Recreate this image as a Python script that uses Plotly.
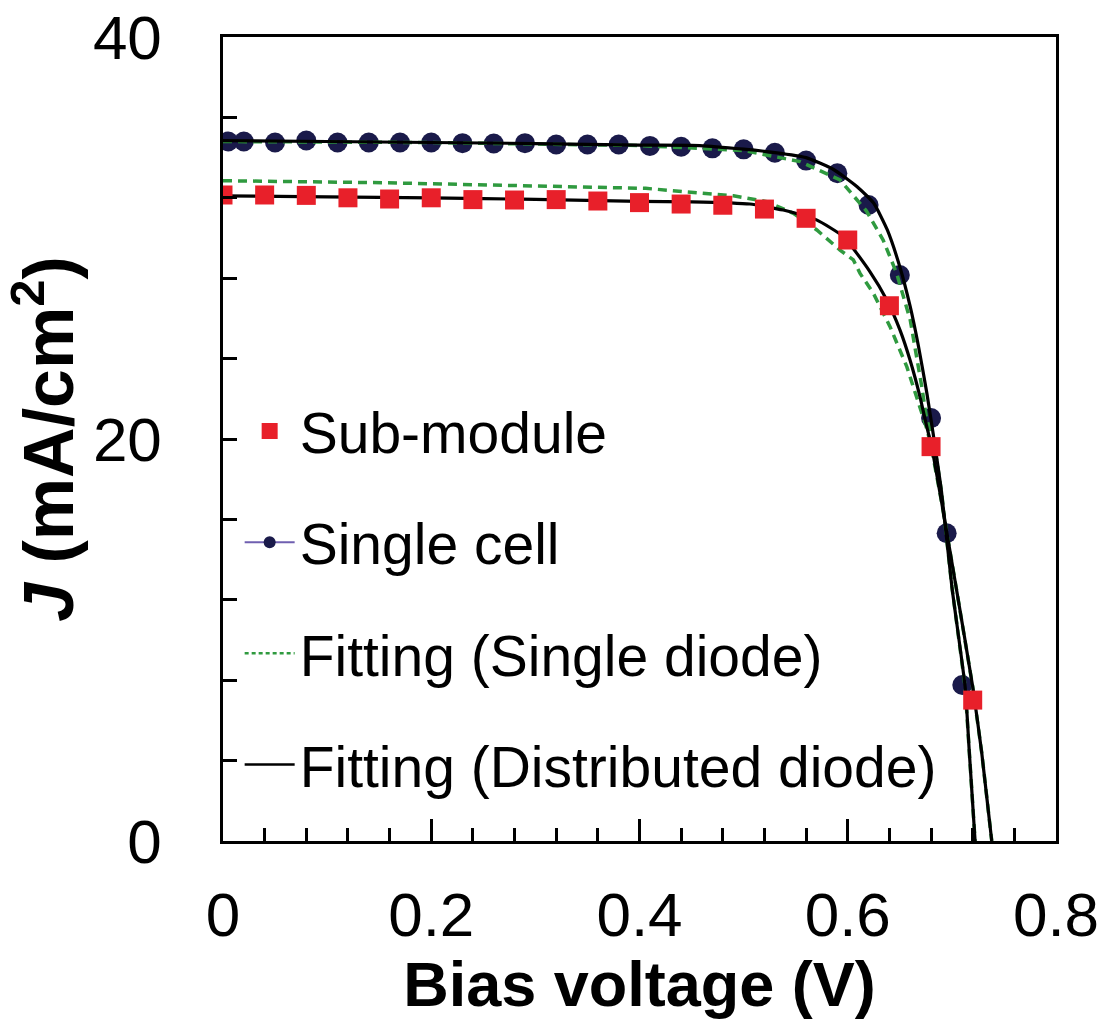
import plotly.graph_objects as go

# ---- data ----
sub_v = [0.00, 0.04, 0.08, 0.12, 0.16, 0.20, 0.24, 0.28, 0.32, 0.36,
         0.40, 0.44, 0.48, 0.52, 0.56, 0.60, 0.64, 0.68, 0.72]
sub_j = [32.14, 32.14, 32.12, 32.00, 31.94, 32.00, 31.91, 31.89, 31.91, 31.84,
         31.76, 31.69, 31.63, 31.44, 30.98, 29.90, 26.63, 19.62, 7.01]

cell_v = [0.005, 0.02, 0.05, 0.08, 0.11, 0.14, 0.17, 0.20, 0.23, 0.26,
          0.29, 0.32, 0.35, 0.38, 0.41, 0.44, 0.47, 0.50, 0.53, 0.56,
          0.59, 0.62, 0.65, 0.68, 0.695, 0.71]
cell_j = [34.80, 34.80, 34.75, 34.85, 34.75, 34.75, 34.75, 34.75, 34.72, 34.70,
          34.72, 34.65, 34.65, 34.65, 34.58, 34.54, 34.46, 34.41, 34.24, 33.85,
          33.22, 31.64, 28.16, 21.04, 15.31, 7.76]

# distributed-diode fit (black solid)
dist_cell_v = [0.0, 0.10, 0.20, 0.30, 0.40, 0.458, 0.50, 0.53, 0.56, 0.586,
               0.609, 0.625, 0.638, 0.650, 0.660, 0.668, 0.676, 0.682, 0.690,
               0.700, 0.7127, 0.7168, 0.7223]
dist_cell_j = [34.84, 34.80, 34.75, 34.70, 34.62, 34.60, 34.42, 34.25, 34.00, 33.42,
               32.55, 31.73, 30.40, 28.57, 26.58, 24.59, 22.27, 20.28, 17.40,
               12.65, 7.68, 4.38, 0.0]
dist_sub_v = [0.0, 0.10, 0.20, 0.30, 0.40, 0.45, 0.506, 0.538, 0.570, 0.596,
              0.6214, 0.6375, 0.6502, 0.6598, 0.6694, 0.6759, 0.6806, 0.690,
              0.704, 0.720, 0.7287, 0.7383]
dist_sub_j = [32.10, 32.05, 32.00, 31.92, 31.82, 31.80, 31.69, 31.39, 30.90, 30.06,
              28.32, 26.92, 25.42, 23.93, 22.10, 20.61, 19.62, 16.90,
              12.65, 7.68, 4.38, 0.0]

# single-diode fit (green dashed)
sd_cell_v = [0.0, 0.20, 0.40, 0.50, 0.5543, 0.5926, 0.618, 0.634, 0.647, 0.660,
             0.6711, 0.6759, 0.682, 0.690, 0.700, 0.7127, 0.7168, 0.7223]
sd_cell_j = [34.80, 34.75, 34.60, 34.35, 33.80, 32.89, 31.34, 29.90, 28.24, 25.92,
             22.60, 20.95, 20.10, 17.40, 12.65, 7.68, 4.38, 0.0]
sd_sub_v = [0.0, 0.153, 0.406, 0.451, 0.4902, 0.5223, 0.5478, 0.5703, 0.5926,
            0.6054, 0.6118, 0.6246, 0.6406, 0.6567, 0.6694, 0.676, 0.6806, 0.690,
            0.704, 0.720, 0.7287, 0.7383]
sd_sub_j = [32.85, 32.75, 32.47, 32.27, 32.10, 31.81, 31.23, 30.40, 29.40,
            28.91, 28.24, 27.25, 25.59, 23.60, 21.61, 20.50, 19.50, 16.90,
            12.65, 7.68, 4.38, 0.0]

x_ticks = [0, 0.2, 0.4, 0.6, 0.8]
x_tick_text = ["0", "0.2", "0.4", "0.6", "0.8"]
y_ticks = [0, 20, 40]
y_tick_text = ["0", "20", "40"]

legend_names = ["Sub-module", "Single cell", "Fitting (Single diode)",
                "Fitting (Distributed diode)"]

# ---- styles ----
RED = "#e8202a"
NAVY = "#1a1a4a"
PURPLE = "#6f5fb0"
GREEN = "#2f9a3f"
FONT = "Liberation Sans, Arial, Helvetica, sans-serif"

fig = go.Figure()

# legend-only entries (ordered)
fig.add_trace(go.Scatter(x=[None], y=[None], mode="markers", name=legend_names[0],
                         legendgroup="g1",
                         marker=dict(symbol="square", color=RED, size=16)))
fig.add_trace(go.Scatter(x=[None], y=[None], mode="lines+markers", name=legend_names[1],
                         legendgroup="g2",
                         line=dict(color=PURPLE, width=2),
                         marker=dict(symbol="circle", color=NAVY, size=12)))
fig.add_trace(go.Scatter(x=[None], y=[None], mode="lines", name=legend_names[2],
                         legendgroup="g3",
                         line=dict(color=GREEN, width=2.5, dash="4px,3px")))
fig.add_trace(go.Scatter(x=[None], y=[None], mode="lines", name=legend_names[3],
                         legendgroup="g4",
                         line=dict(color="black", width=2.5)))

# data traces
fig.add_trace(go.Scatter(x=cell_v, y=cell_j, mode="markers", showlegend=False,
                         marker=dict(symbol="circle", color=NAVY, size=20,
                                     line=dict(width=0))))
fig.add_trace(go.Scatter(x=sd_cell_v, y=sd_cell_j, mode="lines", showlegend=False,
                         line=dict(color=GREEN, width=3.5, dash="9px,6px")))
fig.add_trace(go.Scatter(x=sd_sub_v, y=sd_sub_j, mode="lines", showlegend=False,
                         line=dict(color=GREEN, width=3.5, dash="9px,6px")))
fig.add_trace(go.Scatter(x=dist_cell_v, y=dist_cell_j, mode="lines", showlegend=False,
                         line=dict(color="black", width=3.2, shape="spline", smoothing=0.5)))
fig.add_trace(go.Scatter(x=dist_sub_v, y=dist_sub_j, mode="lines", showlegend=False,
                         line=dict(color="black", width=3.2, shape="spline", smoothing=0.5)))
fig.add_trace(go.Scatter(x=sub_v, y=sub_j, mode="markers", showlegend=False,
                         marker=dict(symbol="square", color=RED, size=19,
                                     line=dict(width=0))))

axis_common = dict(
    showline=True, linecolor="black", linewidth=2.5, mirror=True,
    showgrid=False, zeroline=False, automargin=False,
    ticks="inside", tickcolor="black", tickwidth=2.5,
    tickfont=dict(family=FONT, size=62, color="black"),
)

fig.update_xaxes(
    range=[0, 0.8], tickmode="array", tickvals=x_ticks, ticktext=x_tick_text,
    ticklen=22, ticklabelstandoff=18,
    minor=dict(dtick=0.04, tick0=0, ticks="inside", ticklen=13,
               tickcolor="black", tickwidth=2.5),
    title=dict(text="<b>Bias voltage (V)</b>", standoff=12,
               font=dict(family=FONT, size=63, color="black")),
    **axis_common,
)
fig.update_yaxes(
    range=[0, 40], tickmode="array", tickvals=y_ticks, ticktext=y_tick_text,
    ticklen=14, ticklabelstandoff=46,
    minor=dict(dtick=4, tick0=0, ticks="inside", ticklen=14,
               tickcolor="black", tickwidth=2.5),
    title=dict(text="<b><i>J</i> (mA/cm<sup>2</sup>)</b>", standoff=6,
               font=dict(family=FONT, size=70, color="black")),
    **axis_common,
)

fig.update_layout(
    width=1103, height=1020,
    margin=dict(l=223, r=47, t=37, b=179, pad=0),
    paper_bgcolor="white", plot_bgcolor="white",
    font=dict(family=FONT, color="black"),
    showlegend=True,
    legend=dict(
        x=0.02, y=0.564, xanchor="left", yanchor="top",
        bgcolor="rgba(0,0,0,0)", borderwidth=0,
        font=dict(family=FONT, size=57, color="black"),
        traceorder="grouped", tracegroupgap=34, itemwidth=50,
    ),
)

fig.write_html("out.html")
